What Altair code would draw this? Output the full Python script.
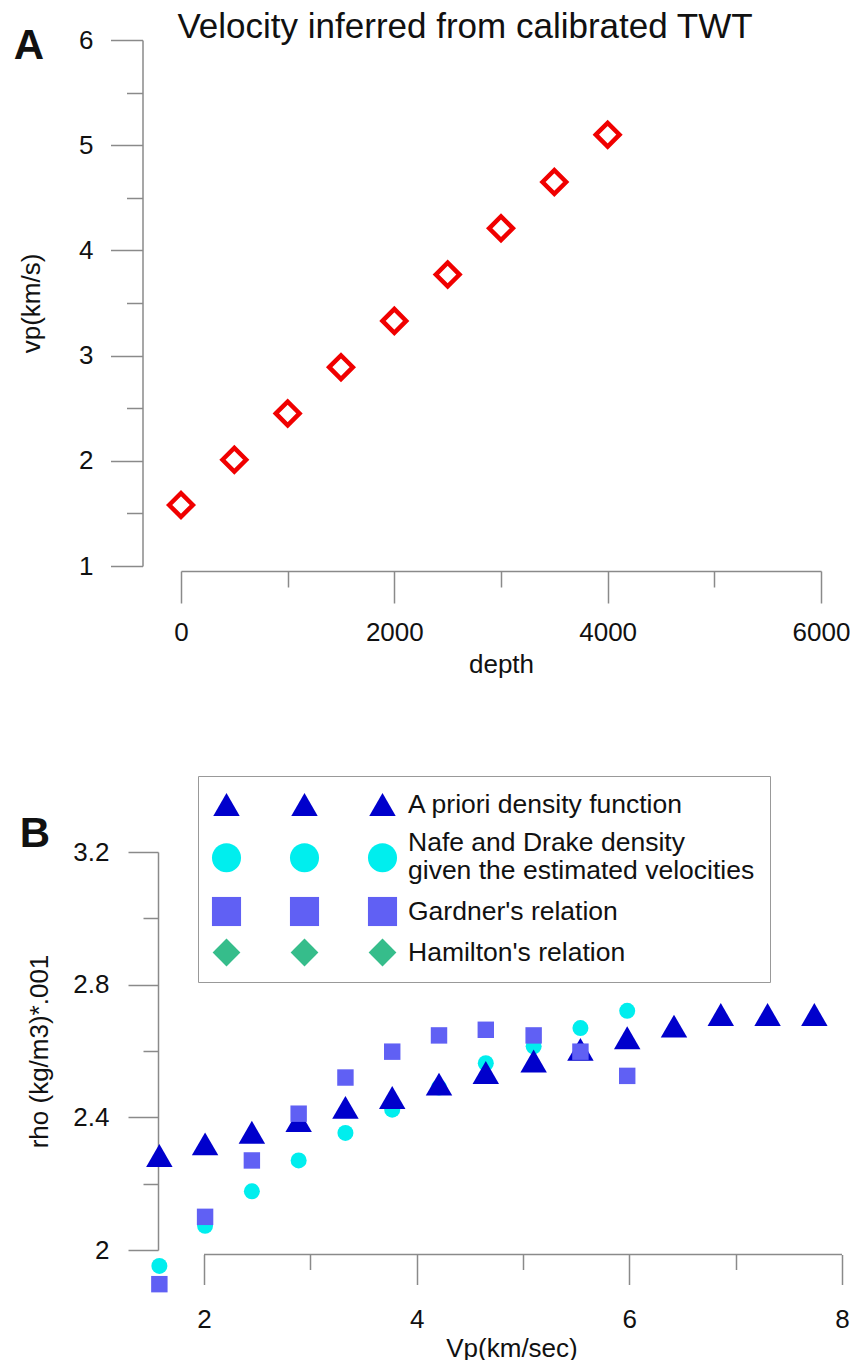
import altair as alt
import pandas as pd

# ---------------- Panel A data ----------------
depth = [0, 500, 1000, 1500, 2000, 2500, 3000, 3500, 4000]
vp = [1.58, 2.01, 2.45, 2.89, 3.33, 3.77, 4.21, 4.65, 5.10]
depth_ticks = [0, 2000, 4000, 6000]
depth_minor = [1000, 3000, 5000]
vp_ticks = [1, 2, 3, 4, 5, 6]
vp_minor = [1.5, 2.5, 3.5, 4.5, 5.5]

# ---------------- Panel B data ----------------
vp_b = [1.58, 2.01, 2.45, 2.89, 3.33, 3.77, 4.21, 4.65, 5.10, 5.54, 5.98, 6.42, 6.86, 7.30, 7.74]
rho_apriori = [2.285, 2.32, 2.355, 2.39, 2.43, 2.46, 2.50, 2.535, 2.57, 2.605, 2.64, 2.675, 2.71, 2.71, 2.71]
vp_est = [1.58, 2.01, 2.45, 2.89, 3.33, 3.77, 4.21, 4.65, 5.10, 5.54, 5.98]
rho_nafe = [1.952, 2.073, 2.177, 2.27, 2.353, 2.423, 2.49, 2.563, 2.614, 2.669, 2.721]
rho_gardner = [1.897, 2.10, 2.27, 2.411, 2.52, 2.598, 2.647, 2.664, 2.647, 2.598, 2.525]
rho_ticks = [2.0, 2.4, 2.8, 3.2]
rho_minor = [2.2, 2.6, 3.0]
vpb_ticks = [2, 4, 6, 8]
vpb_minor = [3, 5, 7]

series = [
    "A priori density function",
    "Nafe and Drake density|given the estimated velocities",
    "Gardner's relation",
    "Hamilton's relation",
]
colors = ["#0000CC", "#00EEEE", "#6060F4", "#36BD8B"]
# legend glyphs (the circle is centred between the two lines of its label)
legend_shapes = [
    "triangle-up",
    "M-1.1,1.15A1.1,1.1,0,1,0,1.1,1.15A1.1,1.1,0,1,0,-1.1,1.15Z",
    "M-1.1,-1.1L1.1,-1.1L1.1,1.1L-1.1,1.1Z",
    "M-1.05,0L0,-1.05L1.05,0L0,1.05Z",
]

# legend shows each symbol three times per row
leg_domain, leg_colors, leg_shapes = [], [], []
for s, c, sh in zip(series, colors, legend_shapes):
    for k in ("#1", "#2", ""):
        leg_domain.append(s + k)
        leg_colors.append(c)
        leg_shapes.append(sh)

AXIS_COL = "#8a8a8a"
FONT = "Liberation Sans"

# ---------------- Panel A ----------------
dfa = pd.DataFrame({"depth": depth, "vp": vp})
xa = alt.Scale(domain=[0, 6000], nice=False, zero=False)
ya = alt.Scale(domain=[1, 6], nice=False, zero=False)

a_points = alt.Chart(dfa).mark_point(
    shape="diamond", filled=False, size=560, strokeWidth=4.5, color="#F00000", opacity=1
).encode(
    x=alt.X("depth:Q", scale=xa, axis=alt.Axis(values=depth_ticks, format="d", tickSize=32,
            offset=5, labelPadding=16, title="depth", titleY=101.7,
            titleBaseline="alphabetic", orient="bottom")),
    y=alt.Y("vp:Q", scale=ya, axis=alt.Axis(values=vp_ticks, format="d", tickSize=32,
            offset=38.5, labelPadding=17.5, title="vp(km/s)", titleX=-111,
            titleBaseline="middle", orient="left")),
)
a_minor = alt.Chart(dfa).mark_point(opacity=0).encode(
    x=alt.X("depth:Q", scale=xa, axis=alt.Axis(values=depth_minor, tickSize=16, offset=5,
            labels=False, domain=False, title=None, orient="bottom")),
    y=alt.Y("vp:Q", scale=ya, axis=alt.Axis(values=vp_minor, tickSize=16, offset=38.5,
            labels=False, domain=False, title=None, orient="left")),
)
one = pd.DataFrame({"k": [0]})
a_title = alt.Chart(one).mark_text(
    text="Velocity inferred from calibrated TWT", fontSize=35, align="center",
    baseline="alphabetic", color="#111", font=FONT
).encode(x=alt.value(284), y=alt.value(-2))
a_letter = alt.Chart(one).mark_text(
    text="A", fontSize=42, fontWeight="bold", align="center", baseline="alphabetic",
    color="#111", font=FONT
).encode(x=alt.value(-152), y=alt.value(19))

panel_a = alt.layer(a_points, a_minor, a_title, a_letter).resolve_axis(
    x="independent", y="independent"
).properties(width=640, height=526)

# ---------------- Panel B ----------------
df_ap = pd.DataFrame({"vp": vp_b, "rho": rho_apriori, "series": series[0]})
df_nd = pd.DataFrame({"vp": vp_est, "rho": rho_nafe, "series": series[1]})
df_ga = pd.DataFrame({"vp": vp_est, "rho": rho_gardner, "series": series[2]})

xb = alt.Scale(domain=[8 - 661 / 106.33, 8], nice=False, zero=False)
yb = alt.Scale(domain=[2.0, 3.2], nice=False, zero=False)

legend = alt.Legend(
    orient="none", legendX=17, legendY=-76, columns=3, direction="horizontal", title=None,
    symbolSize=700, symbolStrokeWidth=0, symbolOpacity=1,
    labelFontSize=26.5, labelFont=FONT, labelColor="#111", labelLimit=600,
    labelOffset=12, columnPadding=37, rowPadding=11, padding=15,
    strokeColor="#999999", fillColor="white",
    labelExpr="indexof(datum.label, '#') >= 0 ? '' : split(datum.label, '|')",
)
col_enc = alt.Color("series:N", scale=alt.Scale(domain=leg_domain, range=leg_colors), legend=legend)
shp_enc = alt.Shape("series:N", scale=alt.Scale(domain=leg_domain, range=leg_shapes), legend=legend)

bx_axis = alt.Axis(values=vpb_ticks, format="d", tickSize=30, offset=4.5, domain=False,
                   labelPadding=22, title="Vp(km/sec)", titleY=101.7,
                   titleBaseline="alphabetic", orient="bottom")
by_axis = alt.Axis(values=rho_ticks, format="~g", tickSize=30, offset=23, labelPadding=19,
                   title="rho (kg/m3)*.001", titleX=-119, titleBaseline="middle", orient="left")

b_nafe = alt.Chart(df_nd).mark_point(
    filled=True, shape="circle", size=256, opacity=1, strokeWidth=0
).encode(
    x=alt.X("vp:Q", scale=xb, axis=None), y=alt.Y("rho:Q", scale=yb, axis=None), color=col_enc
)
b_apri = alt.Chart(df_ap).mark_point(filled=True, size=700, opacity=1, strokeWidth=0).encode(
    x=alt.X("vp:Q", scale=xb, axis=bx_axis), y=alt.Y("rho:Q", scale=yb, axis=by_axis),
    color=col_enc, shape=shp_enc
)
b_gard = alt.Chart(df_ga).mark_point(
    filled=True, shape="square", size=270, opacity=1, strokeWidth=0
).encode(
    x=alt.X("vp:Q", scale=xb, axis=None), y=alt.Y("rho:Q", scale=yb, axis=None), color=col_enc
)

b_minor = alt.Chart(df_ap).mark_point(opacity=0).encode(
    x=alt.X("vp:Q", scale=xb, axis=alt.Axis(values=vpb_minor, tickSize=15, offset=4.5,
            labels=False, domain=False, title=None, orient="bottom")),
    y=alt.Y("rho:Q", scale=yb, axis=alt.Axis(values=rho_minor, tickSize=15, offset=23,
            labels=False, domain=False, title=None, orient="left")),
)
# x axis line spanning the first to the last labelled tick
b_line = alt.Chart(pd.DataFrame({"lo": [vpb_ticks[0]], "hi": [vpb_ticks[-1]]})).mark_rule(
    color=AXIS_COL, strokeWidth=1.5
).encode(
    x=alt.X("lo:Q", scale=xb, axis=None), x2="hi:Q", y=alt.value(402.5)
)
b_letter = alt.Chart(one).mark_text(
    text="B", fontSize=42, fontWeight="bold", align="center", baseline="alphabetic",
    color="#111", font=FONT
).encode(x=alt.value(-146), y=alt.value(-5))

panel_b = alt.layer(b_nafe, b_apri, b_gard, b_minor, b_line, b_letter).resolve_axis(
    x="independent", y="independent"
).properties(width=661, height=398)

chart = alt.vconcat(panel_a, panel_b, spacing=286, bounds="flush").resolve_legend(
    color="independent", shape="independent"
).properties(
    padding={"left": 13, "top": 10, "right": 0, "bottom": 0}
).configure(font=FONT).configure_view(stroke=None).configure_axis(
    grid=False, domainColor=AXIS_COL, tickColor=AXIS_COL, domainWidth=1.5, tickWidth=1.5,
    labelFontSize=26, titleFontSize=26, labelColor="#111", titleColor="#111",
    titleFontWeight="normal", labelFont=FONT, titleFont=FONT, labelFlush=False,
)

chart.save("out.html", embed_options={"renderer": "svg", "actions": False})
